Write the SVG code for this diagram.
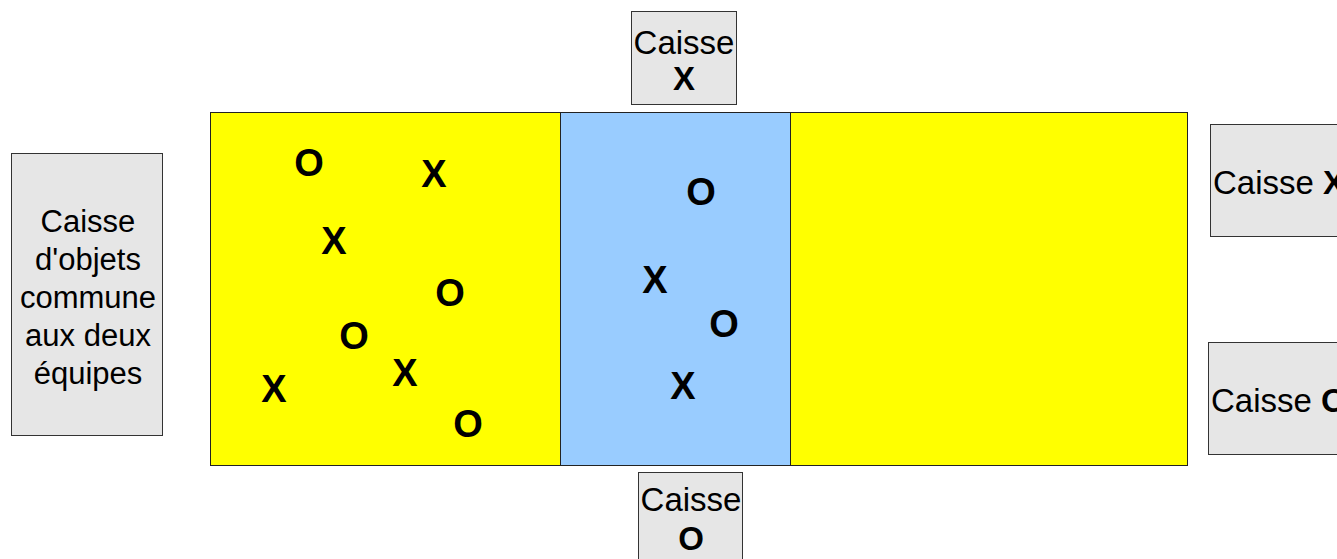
<svg xmlns="http://www.w3.org/2000/svg" width="1337" height="559" viewBox="0 0 1337 559">
<style>
.box{fill:#e6e6e6;stroke:#333;stroke-width:1}
.zone{stroke:#222;stroke-width:1}
.t{font-family:"Liberation Sans",Arial,sans-serif;font-size:33px;fill:#000}
.tl{font-family:"Liberation Sans",Arial,sans-serif;font-size:31px;fill:#000;text-anchor:middle}
.b{font-weight:bold}
.m{font-family:"Liberation Sans",Arial,sans-serif;font-size:38px;font-weight:bold;fill:#000;text-anchor:middle}
</style>
<rect width="1337" height="559" fill="#fff"/>
<g id="terrain">
<rect class="zone" x="210.5" y="112.5" width="350" height="353" fill="#ffff00"/>
<rect class="zone" x="560.5" y="112.5" width="230" height="353" fill="#99ccff"/>
<rect class="zone" x="790.5" y="112.5" width="397" height="353" fill="#ffff00"/>
</g>
<g id="objets-gauche">
<text class="m" x="309" y="176">O</text>
<text class="m" x="434" y="187">X</text>
<text class="m" x="334" y="254">X</text>
<text class="m" x="450" y="306">O</text>
<text class="m" x="354" y="349">O</text>
<text class="m" x="405" y="386">X</text>
<text class="m" x="274" y="402">X</text>
<text class="m" x="468" y="437">O</text>
</g>
<g id="objets-centre">
<text class="m" x="701" y="205">O</text>
<text class="m" x="655" y="293">X</text>
<text class="m" x="724" y="337">O</text>
<text class="m" x="683" y="399">X</text>
</g>
<g id="caisse-commune">
<rect class="box" x="11.5" y="153.5" width="151" height="282"/>
<text class="tl" x="88" y="232">Caisse</text>
<text class="tl" x="88" y="270">d'objets</text>
<text class="tl" x="88" y="308">commune</text>
<text class="tl" x="88" y="346">aux deux</text>
<text class="tl" x="88" y="384">équipes</text>
</g>
<g id="caisse-x-haut">
<rect class="box" x="631.5" y="11.5" width="105" height="93"/>
<text class="t" x="684" y="54" text-anchor="middle">Caisse</text>
<text class="t b" x="684" y="90" text-anchor="middle">X</text>
</g>
<g id="caisse-o-bas">
<rect class="box" x="638.5" y="472.5" width="104" height="100"/>
<text class="t" x="691" y="511" text-anchor="middle">Caisse</text>
<text class="t b" x="691" y="550" text-anchor="middle">O</text>
</g>
<g id="caisse-x-droite">
<rect class="box" x="1210.5" y="124.5" width="140" height="112"/>
<text class="t" x="1213" y="194">Caisse <tspan class="b">X</tspan></text>
</g>
<g id="caisse-o-droite">
<rect class="box" x="1208.5" y="342.5" width="140" height="112"/>
<text class="t" x="1211" y="412">Caisse <tspan class="b">O</tspan></text>
</g>
<g id="connecteurs"/>
</svg>
